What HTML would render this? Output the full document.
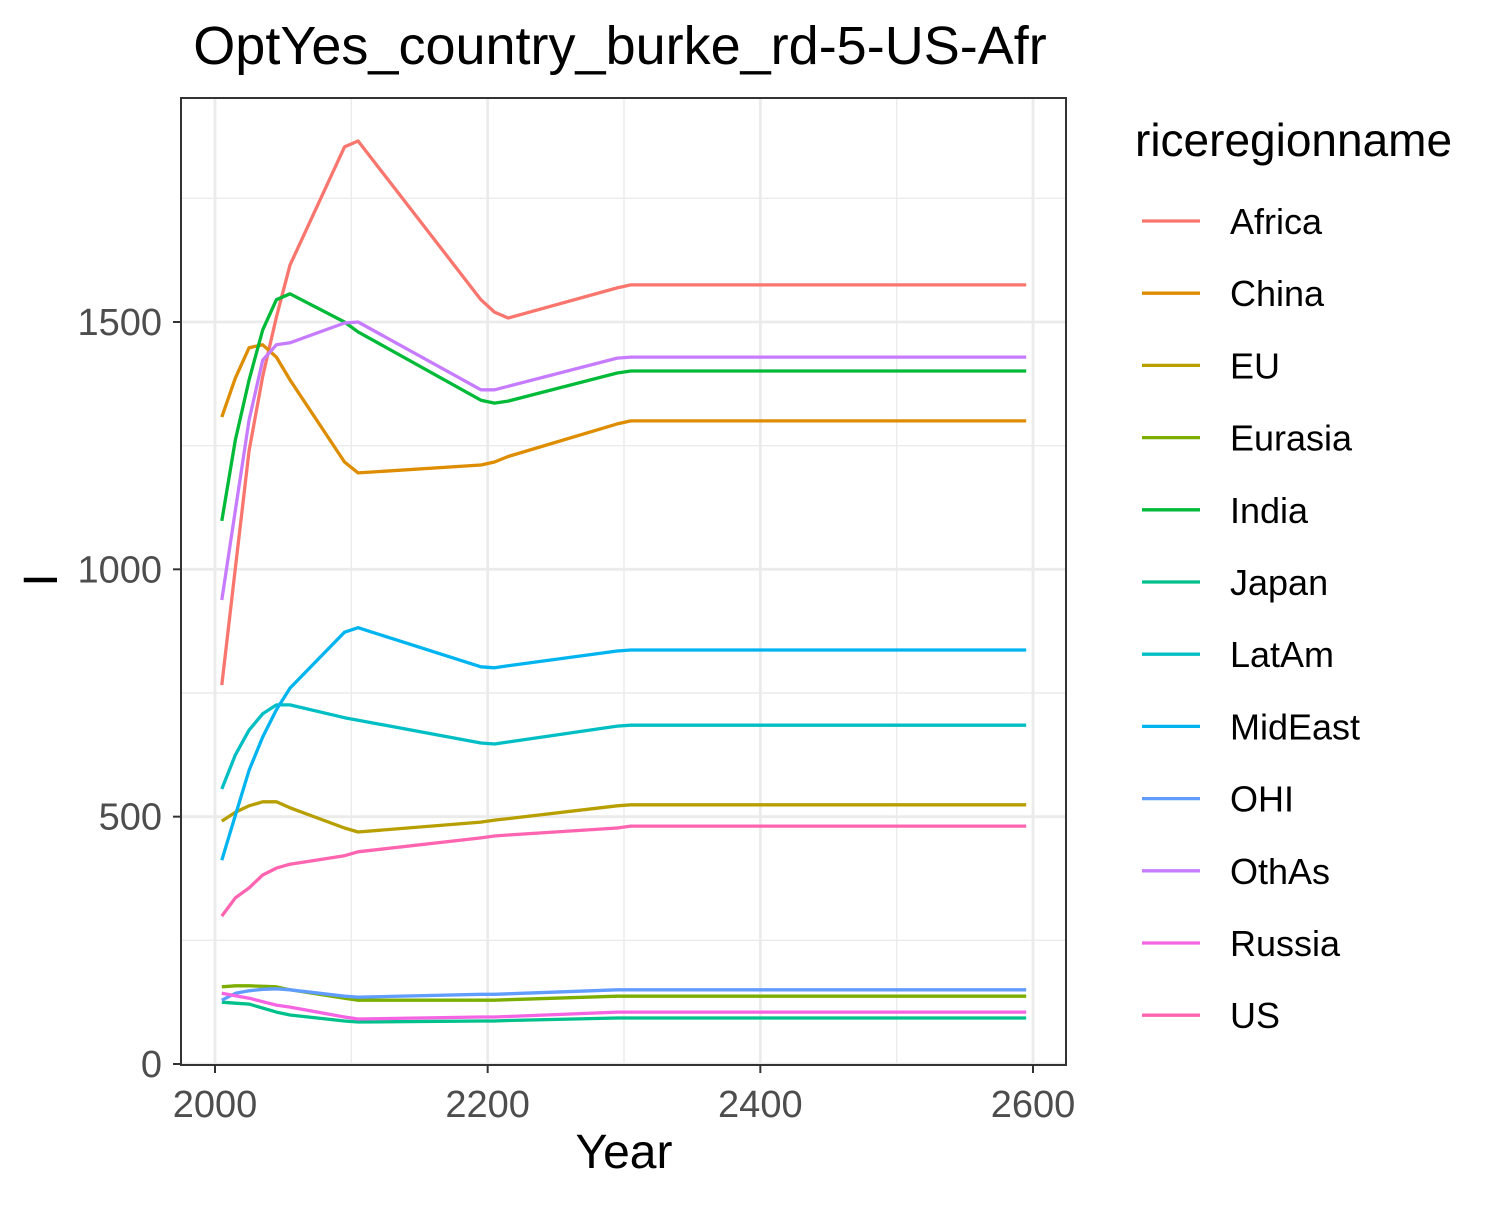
<!DOCTYPE html>
<html><head><meta charset="utf-8"><style>
body{margin:0;background:#fff;}
svg text{font-family:"Liberation Sans",Arial,sans-serif;}
</style></head><body>
<svg id="chart" width="1500" height="1200" xmlns="http://www.w3.org/2000/svg">
<rect width="1500" height="1200" fill="#fff"/>
<g id="grid"></g>
<g id="lines"></g>
<rect x="181" y="98" width="885" height="967" fill="none" stroke="#333" stroke-width="2"/>
<g id="axes"></g>
<text x="620" y="64" font-size="54" text-anchor="middle" fill="#000">OptYes_country_burke_rd-5-US-Afr</text>
<text x="624" y="1168" font-size="48" text-anchor="middle" fill="#000">Year</text>
<text transform="translate(57,580) rotate(-90)" font-size="48" text-anchor="middle" fill="#000">I</text>
<text x="1135" y="156" font-size="46" fill="#000">riceregionname</text>
<g id="legend"></g>
</svg>
<script>
const years = [2005,2015,2025,2035,2045,2055,2095,2105,2195,2205,2215,2295,2305,2595];
const seriesNames = ["Africa","China","EU","Eurasia","India","Japan","LatAm","MidEast","OHI","OthAs","Russia","US"];
const africa = [766,1003,1240,1390,1510,1615,1854,1866,1545,1520,1508,1569,1575,1575];
const china = [1308,1387,1448,1454,1429,1383,1217,1195,1211,1217,1228,1294,1300,1300];
const eu = [491,509,522,530,530,518,477,469,489,493,496,522,524,524];
const eurasia = [156,158,158,157,156,150,133,129,129,129,130,137,137,137];
const india = [1098,1262,1383,1484,1545,1557,1500,1480,1342,1336,1340,1397,1401,1401];
const japan = [125,123,121,113,105,99,87,85,87,87,88,93,93,93];
const latam = [556,625,675,708,726,726,700,695,649,647,651,683,685,685];
const mideast = [412,503,594,661,716,760,873,882,803,801,805,835,837,837];
const ohi = [129,143,148,151,152,150,137,135,141,141,142,150,150,150];
const othas = [938,1120,1302,1423,1454,1458,1498,1500,1363,1363,1370,1427,1429,1429];
const russia = [143,138,133,126,119,115,95,91,95,95,96,105,105,105];
const us = [299,336,356,382,396,404,421,429,457,461,463,477,481,481];
const xTicks = [2000,2200,2400,2600];
const xMinor = [2100,2300,2500];
const yTicks = [0,500,1000,1500];
const yMinor = [250,750,1250,1750];

const allSeries = [africa,china,eu,eurasia,india,japan,latam,mideast,ohi,othas,russia,us];
const colors = ["#F8766D","#DE8C00","#B79F00","#7CAE00","#00BA38","#00C08B","#00BFC4","#00B4F0","#619CFF","#C77CFF","#F564E3","#FF64B0"];
const NS="http://www.w3.org/2000/svg";
function xs(v){return 215+(v-2000)*(1033-215)/600;}
function ys(v){return 1064-v*(1064-322)/1500;}
function mk(tag,attrs,parent){const e=document.createElementNS(NS,tag);for(const k in attrs)e.setAttribute(k,attrs[k]);parent.appendChild(e);return e;}
const grid=document.getElementById('grid'),lines=document.getElementById('lines'),axes=document.getElementById('axes'),legend=document.getElementById('legend');
xMinor.forEach(v=>{const l=mk('line',{x1:xs(v),x2:xs(v),y1:98,y2:1065,stroke:'#EBEBEB','stroke-width':1.4},grid);

});
yMinor.forEach(v=>{const l=mk('line',{x1:181,x2:1066,y1:ys(v),y2:ys(v),stroke:'#EBEBEB','stroke-width':1.4},grid);

});
xTicks.forEach(v=>{const l=mk('line',{x1:xs(v),x2:xs(v),y1:98,y2:1065,stroke:'#EBEBEB','stroke-width':2.8},grid);


const t=mk('line',{x1:xs(v),x2:xs(v),y1:1065,y2:1073,stroke:'#333','stroke-width':2},axes);


const tx=mk('text',{x:xs(v),y:1117,'font-size':38,'text-anchor':'middle',fill:'#4D4D4D'},axes);tx.textContent=v;

});
yTicks.forEach(v=>{const l=mk('line',{x1:181,x2:1066,y1:ys(v),y2:ys(v),stroke:'#EBEBEB','stroke-width':2.8},grid);


const t=mk('line',{x1:173,x2:181,y1:ys(v),y2:ys(v),stroke:'#333','stroke-width':2},axes);


const tx=mk('text',{x:162,y:ys(v)+13,'font-size':38,'text-anchor':'end',fill:'#4D4D4D'},axes);tx.textContent=v;

});
allSeries.forEach((s,i)=>{
const d=s.map((v,j)=>(j?'L':'M')+xs(years[j]).toFixed(1)+','+ys(v).toFixed(1)).join(' ');
const p=mk('path',{d:d,fill:'none',stroke:colors[i],'stroke-width':3.3,'stroke-linejoin':'round'},lines);


const y=221+72.2*i;
const g=mk('g',{},legend);


mk('line',{x1:1142,x2:1200,y1:y,y2:y,stroke:colors[i],'stroke-width':3.3},g);
const t=mk('text',{x:1230,y:y+13,'font-size':36,fill:'#000'},g);t.textContent=seriesNames[i];
});
</script>
</body></html>
